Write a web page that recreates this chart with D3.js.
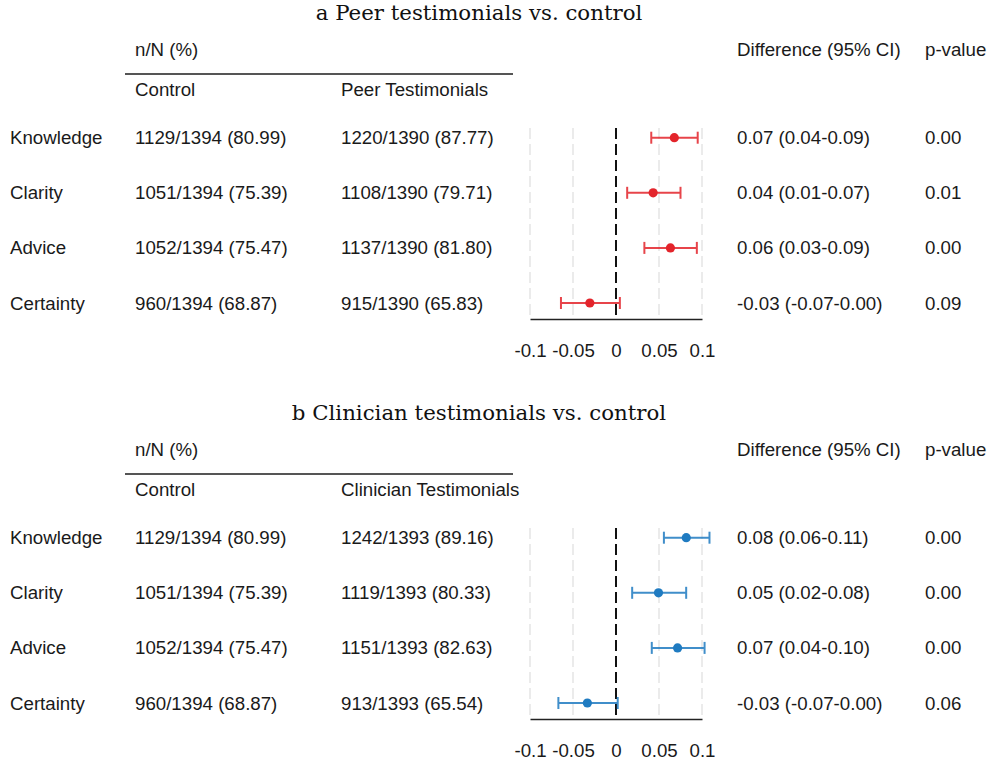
<!DOCTYPE html>
<html>
<head>
<meta charset="utf-8">
<script src="https://cdn.jsdelivr.net/npm/d3@7"></script>
<style>
  html, body { margin: 0; padding: 0; background: #fff; }
  svg { display: block; }
  .t { font-family: "Liberation Sans", Arial, sans-serif; font-size: 18.7px; fill: #1a1a1a; }
  .title { font-family: "DejaVu Serif", serif; font-size: 21.3px; fill: #111; }
</style>
</head>
<body>
<svg id="chart" width="993" height="765"></svg>
<script>
// ---------------- data ----------------
const outcomes = ["Knowledge", "Clarity", "Advice", "Certainty"];
const controlLabel = ["1129/1394 (80.99)", "1051/1394 (75.39)", "1052/1394 (75.47)", "960/1394 (68.87)"];

const peerLabel = ["1220/1390 (87.77)", "1108/1390 (79.71)", "1137/1390 (81.80)", "915/1390 (65.83)"];
const peerDiff = [0.0678, 0.0432, 0.0633, -0.0304];
const peerLo = [0.041, 0.013, 0.033, -0.064];
const peerHi = [0.095, 0.075, 0.094, 0.0045];
const peerDiffText = ["0.07 (0.04-0.09)", "0.04 (0.01-0.07)", "0.06 (0.03-0.09)", "-0.03 (-0.07-0.00)"];
const peerP = ["0.00", "0.01", "0.00", "0.09"];

const clinLabel = ["1242/1393 (89.16)", "1119/1393 (80.33)", "1151/1393 (82.63)", "913/1393 (65.54)"];
const clinDiff = [0.0817, 0.0494, 0.0716, -0.0333];
const clinLo = [0.0557, 0.0188, 0.0416, -0.067];
const clinHi = [0.1087, 0.0816, 0.103, 0.002];
const clinDiffText = ["0.08 (0.06-0.11)", "0.05 (0.02-0.08)", "0.07 (0.04-0.10)", "-0.03 (-0.07-0.00)"];
const clinP = ["0.00", "0.00", "0.00", "0.06"];

const tickValues = [-0.1, -0.05, 0, 0.05, 0.1];
const tickLabels = ["-0.1", "-0.05", "0", "0.05", "0.1"];

const panels = [
  { title: "a Peer testimonials vs. control", group: "Peer Testimonials", labels: peerLabel,
    diff: peerDiff, lo: peerLo, hi: peerHi, diffText: peerDiffText, p: peerP, color: "#e3242b" },
  { title: "b Clinician testimonials vs. control", group: "Clinician Testimonials", labels: clinLabel,
    diff: clinDiff, lo: clinLo, hi: clinHi, diffText: clinDiffText, p: clinP, color: "#1f7bc1" }
];

// ---------------- drawing ----------------
const svg = d3.select("#chart");
const x = d3.scaleLinear().domain([-0.1, 0.1]).range([530, 702]);
const y = d3.scalePoint().domain(outcomes).range([137.7, 303]);

const colLabel = 10, colCtrl = 135, colGrp = 341, colDiff = 737, colP = 925;
const gridTop = 128, axisY = 319;

panels.forEach((P, pi) => {
  const g = svg.append("g").attr("transform", `translate(0,${pi * 400})`);

  g.append("text").attr("class", "title").attr("x", 479).attr("y", 20)
    .attr("text-anchor", "middle").text(P.title);

  g.append("text").attr("class", "t").attr("x", colCtrl).attr("y", 49).attr("dy", "0.35em").text("n/N (%)");
  g.append("line").attr("x1", 125).attr("x2", 513).attr("y1", 74).attr("y2", 74)
    .attr("stroke", "#555").attr("stroke-width", 2);
  g.append("text").attr("class", "t").attr("x", colCtrl).attr("y", 89).attr("dy", "0.35em").text("Control");
  g.append("text").attr("class", "t").attr("x", colGrp).attr("y", 89).attr("dy", "0.35em").text(P.group);
  g.append("text").attr("class", "t").attr("x", colDiff).attr("y", 49).attr("dy", "0.35em").text("Difference (95% CI)");
  g.append("text").attr("class", "t").attr("x", colP).attr("y", 49).attr("dy", "0.35em").text("p-value");

  outcomes.forEach((o, i) => {
    const yy = y(o);
    g.append("text").attr("class", "t").attr("x", colLabel).attr("y", yy).attr("dy", "0.35em").text(o);
    g.append("text").attr("class", "t").attr("x", colCtrl).attr("y", yy).attr("dy", "0.35em").text(controlLabel[i]);
    g.append("text").attr("class", "t").attr("x", colGrp).attr("y", yy).attr("dy", "0.35em").text(P.labels[i]);
    g.append("text").attr("class", "t").attr("x", colDiff).attr("y", yy).attr("dy", "0.35em").text(P.diffText[i]);
    g.append("text").attr("class", "t").attr("x", colP).attr("y", yy).attr("dy", "0.35em").text(P.p[i]);
  });

  // gridlines
  g.selectAll(".grid").data(tickValues.filter(v => v !== 0)).enter().append("line")
    .attr("x1", d => x(d)).attr("x2", d => x(d)).attr("y1", gridTop).attr("y2", axisY)
    .attr("stroke", "#ebebeb").attr("stroke-width", 2).attr("stroke-dasharray", "11,5");
  // zero line
  g.append("line").attr("x1", x(0)).attr("x2", x(0)).attr("y1", gridTop).attr("y2", axisY)
    .attr("stroke", "#111").attr("stroke-width", 2).attr("stroke-dasharray", "11,5");

  // axis
  const axis = d3.axisBottom(x).tickValues(tickValues)
    .tickFormat((d, i) => tickLabels[i]).tickSize(0).tickSizeOuter(0).tickPadding(25);
  const ag = g.append("g").attr("transform", `translate(0,${axisY})`).call(axis);
  ag.select(".domain").attr("stroke", "#222").attr("stroke-width", 1.6);
  ag.selectAll("text").attr("class", "t").attr("fill", "#1a1a1a")
    .style("font-family", '"Liberation Sans", Arial, sans-serif').style("font-size", "18.7px");

  // error bars
  outcomes.forEach((o, i) => {
    const yy = y(o);
    const eb = g.append("g").attr("stroke", P.color).attr("stroke-width", 2).attr("opacity", 0.85);
    eb.append("line").attr("x1", x(P.lo[i])).attr("x2", x(P.hi[i])).attr("y1", yy).attr("y2", yy);
    eb.append("line").attr("x1", x(P.lo[i])).attr("x2", x(P.lo[i])).attr("y1", yy - 6).attr("y2", yy + 6);
    eb.append("line").attr("x1", x(P.hi[i])).attr("x2", x(P.hi[i])).attr("y1", yy - 6).attr("y2", yy + 6);
    g.append("circle").attr("cx", x(P.diff[i])).attr("cy", yy).attr("r", 4.6).attr("fill", P.color);
  });
});
</script>
</body>
</html>
